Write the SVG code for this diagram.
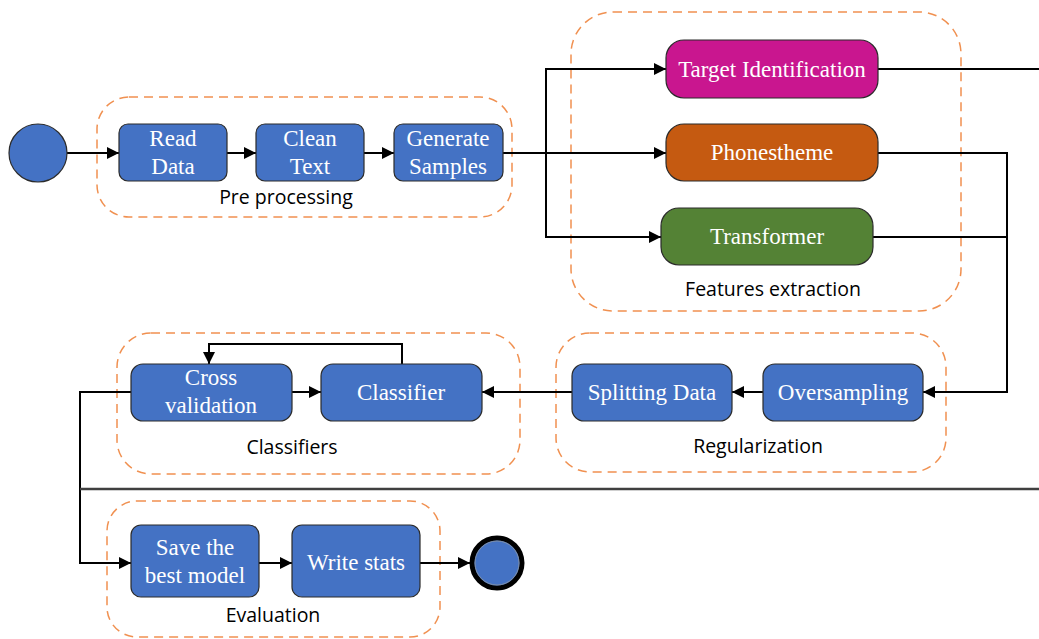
<svg xmlns="http://www.w3.org/2000/svg" width="1039" height="639" viewBox="0 0 1039 639">
<defs>
<marker id="arr" viewBox="0 0 10 10" refX="10" refY="5" markerWidth="12" markerHeight="12" markerUnits="userSpaceOnUse" orient="auto">
<path d="M0,0 L10,5 L0,10 z" fill="#000"/>
</marker>
<style>
.grp{fill:none;stroke:#ED7D31;stroke-opacity:0.85;stroke-width:1.5;stroke-dasharray:9 6}
.gl{font-family:"Open Sans","Noto Sans",sans-serif;font-size:19.5px;fill:#000;text-anchor:middle}
.nd{stroke:#2B2B2B;stroke-width:1.2}
.blue{fill:#4472C4}
.nt{font-family:"Liberation Serif",serif;font-size:23px;fill:#fff;text-anchor:middle}
.c{fill:none;stroke:#000;stroke-width:2}
.ca{fill:none;stroke:#000;stroke-width:2;marker-end:url(#arr)}
</style>
</defs>
<rect width="1039" height="639" fill="#fff"/>

<g id="groups">
<g id="g-pre"><rect class="grp" x="97" y="97" width="415" height="120" rx="32"/><text class="gl" x="286" y="204">Pre processing</text></g>
<g id="g-feat"><rect class="grp" x="571" y="12" width="390" height="299" rx="42"/><text class="gl" x="773" y="296">Features extraction</text></g>
<g id="g-reg"><rect class="grp" x="556" y="333" width="390" height="139" rx="34"/><text class="gl" x="758" y="453">Regularization</text></g>
<g id="g-cls"><rect class="grp" x="117" y="333" width="403" height="141" rx="34"/><text class="gl" x="292" y="454">Classifiers</text></g>
<g id="g-eval"><rect class="grp" x="107" y="501" width="333" height="136" rx="30"/><text class="gl" x="273" y="622">Evaluation</text></g>
</g>

<g id="connectors">
<line class="ca" x1="67" y1="153" x2="119" y2="153"/>
<line class="ca" x1="227" y1="153" x2="256" y2="153"/>
<line class="ca" x1="364" y1="153" x2="394" y2="153"/>
<line class="ca" x1="503" y1="153" x2="666" y2="153"/>
<polyline class="ca" points="546,153 546,69 666,69"/>
<polyline class="ca" points="546,153 546,237 661,237"/>
<line class="c" x1="878" y1="69" x2="1039" y2="69"/>
<polyline class="ca" points="878,153 1007,153 1007,392 923,392"/>
<line class="c" x1="873" y1="237" x2="1007" y2="237"/>
<line class="ca" x1="763" y1="392" x2="732" y2="392"/>
<line class="ca" x1="572" y1="392" x2="482" y2="392"/>
<line class="ca" x1="292" y1="392" x2="321" y2="392"/>
<polyline class="ca" points="402,364 402,344 209,344 209,364"/>
<polyline class="ca" points="131,392 80,392 80,563 131,563"/>
<line x1="80" y1="489" x2="1039" y2="489" stroke="#404040" stroke-width="2.5"/>
<line class="ca" x1="259" y1="563" x2="292" y2="563"/>
<line class="ca" x1="420" y1="563" x2="470" y2="563"/>
</g>

<g id="start"><circle cx="38" cy="153" r="29" class="nd blue"/></g>
<g id="end"><circle cx="497" cy="563" r="25" fill="#4472C4" stroke="#000" stroke-width="5"/><circle cx="497" cy="563" r="22" fill="none" stroke="#7F8FA6" stroke-width="1"/></g>

<g id="read-data"><rect class="nd blue" x="119" y="124" width="108" height="57" rx="9"/><text class="nt" x="173" y="146">Read</text><text class="nt" x="173" y="174">Data</text></g>
<g id="clean-text"><rect class="nd blue" x="256" y="124" width="108" height="57" rx="9"/><text class="nt" x="310" y="146">Clean</text><text class="nt" x="310" y="174">Text</text></g>
<g id="generate-samples"><rect class="nd blue" x="394" y="124" width="109" height="57" rx="9"/><text class="nt" x="448" y="146">Generate</text><text class="nt" x="448" y="174">Samples</text></g>

<g id="target-identification"><rect class="nd" fill="#C9168F" x="666" y="40" width="212" height="58" rx="18"/><text class="nt" x="772" y="77">Target Identification</text></g>
<g id="phonestheme"><rect class="nd" fill="#C55A11" x="666" y="124" width="212" height="57" rx="18"/><text class="nt" x="772" y="160">Phonestheme</text></g>
<g id="transformer"><rect class="nd" fill="#548235" x="661" y="208" width="212" height="57" rx="18"/><text class="nt" x="767" y="244">Transformer</text></g>

<g id="oversampling"><rect class="nd blue" x="763" y="364" width="160" height="57" rx="12"/><text class="nt" x="843" y="400">Oversampling</text></g>
<g id="splitting-data"><rect class="nd blue" x="572" y="364" width="160" height="57" rx="12"/><text class="nt" x="652" y="400">Splitting Data</text></g>
<g id="classifier"><rect class="nd blue" x="321" y="364" width="161" height="57" rx="12"/><text class="nt" x="401" y="400">Classifier</text></g>
<g id="cross-validation"><rect class="nd blue" x="131" y="364" width="161" height="57" rx="12"/><text class="nt" x="211" y="385">Cross</text><text class="nt" x="211" y="413">validation</text></g>

<g id="save-best-model"><rect class="nd blue" x="131" y="525" width="128" height="72" rx="10"/><text class="nt" x="195" y="555">Save the</text><text class="nt" x="195" y="583">best model</text></g>
<g id="write-stats"><rect class="nd blue" x="292" y="525" width="128" height="72" rx="10"/><text class="nt" x="356" y="570">Write stats</text></g>
</svg>
